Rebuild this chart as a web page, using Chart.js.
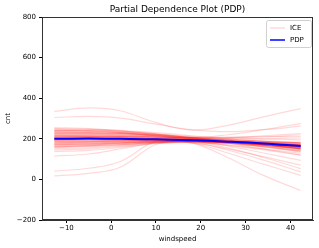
<!DOCTYPE html>
<html>
<head>
<meta charset="utf-8">
<script src="https://cdn.jsdelivr.net/npm/chart.js@4"></script>
<style>
  html, body { margin: 0; padding: 0; background: #fff; }
  #wrap { width: 319px; height: 248px; }
</style>
</head>
<body>
<div id="wrap"><canvas id="chart" width="319" height="248"></canvas></div>
<script>
// ---- Data ----
const windspeedGrid = [-12.7, -5, 2, 10, 18, 26, 34, 42.3];
const pdpValues = [200, 201, 200, 198, 193, 186, 177, 164];

// one row per ICE curve, values at windspeedGrid
const iceCurves = [
  [335, 352, 338, 280, 243, 266, 308, 349],
  [305, 310, 302, 272, 245, 235, 245, 262],
  [41, 55, 88, 190, 205, 205, 210, 220],
  [17, 30, 60, 172, 195, 200, 200, 205],
  [115, 125, 150, 180, 190, 185, 175, 160],
  [205, 206, 205, 200, 180, 108, 20, -55],
  [180, 185, 190, 192, 180, 130, 75, 20],
  [195, 198, 200, 198, 185, 145, 95, 37],
  [210, 212, 212, 208, 192, 155, 108, 53],
  [170, 175, 180, 185, 180, 150, 112, 70],
  [225, 225, 222, 215, 195, 165, 130, 94],
  [240, 238, 230, 215, 205, 220, 245, 275],
  [160, 168, 178, 188, 195, 205, 215, 226],
  [255, 250, 240, 222, 205, 195, 188, 180],
  [248, 245, 238, 225, 212, 205, 200, 195],
  [240, 242, 238, 225, 205, 185, 165, 145],
  [235, 232, 228, 218, 205, 190, 175, 160],
  [230, 228, 225, 215, 200, 182, 160, 135],
  [226, 226, 224, 218, 208, 198, 190, 182],
  [222, 222, 220, 212, 200, 186, 170, 150],
  [218, 218, 217, 212, 203, 195, 188, 180],
  [214, 214, 213, 210, 202, 190, 178, 165],
  [210, 211, 210, 206, 198, 185, 170, 152],
  [207, 208, 208, 205, 198, 190, 180, 170],
  [204, 205, 204, 200, 193, 182, 168, 150],
  [201, 202, 202, 200, 195, 188, 180, 172],
  [198, 199, 199, 197, 190, 178, 162, 142],
  [195, 196, 197, 196, 192, 186, 178, 168],
  [192, 193, 194, 194, 190, 182, 170, 155],
  [189, 190, 192, 193, 190, 184, 176, 165],
  [186, 188, 190, 192, 191, 186, 180, 172],
  [183, 185, 188, 190, 188, 180, 168, 152],
  [180, 182, 186, 190, 190, 188, 185, 180],
  [176, 178, 182, 187, 188, 182, 170, 155],
  [172, 175, 180, 186, 188, 186, 182, 176],
  [168, 170, 176, 184, 186, 180, 168, 150],
  [163, 166, 172, 182, 186, 182, 172, 158],
  [158, 162, 170, 182, 188, 186, 180, 170],
  [152, 156, 166, 180, 185, 178, 162, 140],
  [145, 150, 162, 178, 184, 176, 160, 138],
  [138, 143, 158, 176, 184, 180, 170, 155],
  [250, 248, 242, 230, 215, 200, 186, 170],
  [244, 240, 232, 218, 200, 178, 150, 120],
  [236, 236, 232, 222, 208, 192, 175, 158],
  [215, 212, 208, 200, 188, 170, 150, 128],
  [200, 200, 198, 194, 185, 168, 145, 120],
  [215, 215, 212, 208, 205, 208, 210, 212],
  [228, 230, 228, 220, 206, 192, 176, 160],
  [220, 219, 216, 210, 200, 190, 180, 168],
  [212, 212, 211, 207, 199, 186, 170, 150],
  [206, 206, 205, 202, 196, 186, 174, 160],
  [199, 200, 200, 198, 193, 184, 172, 158],
  [193, 194, 195, 195, 192, 188, 184, 180],
  [187, 188, 190, 191, 189, 182, 172, 160],
  [178, 180, 184, 188, 189, 185, 178, 170],
  [170, 173, 178, 185, 188, 184, 176, 165],
  [160, 164, 171, 182, 187, 183, 174, 162],
  [242, 240, 234, 222, 206, 190, 172, 152],
  [232, 230, 226, 216, 204, 194, 185, 176],
];

const xTicks = [-10, 0, 10, 20, 30, 40];
const yTicks = [-200, 0, 200, 400, 600, 800];

const ICE_COLOR = "rgba(255,0,0,0.15)";
const PDP_COLOR = "#0000ff";
const FONT = "'DejaVu Sans', sans-serif";
const TITLE = "Partial Dependence Plot (PDP)";

const minus = v => String(v).replace("-", "\u2212");

// ---- Plugins: title over plot area, full box frame, matplotlib-like legend ----
const framePlugin = {
  id: "frame",
  afterDatasetsDraw(chart) {
    const { ctx, chartArea: a } = chart;
    ctx.save();
    ctx.strokeStyle = "#333";
    ctx.lineWidth = 1;
    ctx.strokeRect(a.left + 0.5, a.top + 0.5, a.right - a.left - 1, a.bottom - a.top - 1);
    // title centred on the axes, like matplotlib
    ctx.font = `9px ${FONT}`;
    ctx.fillStyle = "#000";
    ctx.textAlign = "center";
    ctx.textBaseline = "middle";
    ctx.fillText(TITLE, (a.left + a.right) / 2, 10);
    ctx.restore();
  },
};

const legendPlugin = {
  id: "mplLegend",
  afterDraw(chart) {
    const { ctx, chartArea: a } = chart;
    const x0 = a.right - 47, y0 = a.top + 3, w = 45, h = 27;
    ctx.save();
    ctx.fillStyle = "rgba(255,255,255,0.8)";
    ctx.strokeStyle = "#d0d0d0";
    ctx.lineWidth = 1;
    ctx.beginPath();
    ctx.roundRect(x0 + 0.5, y0 + 0.5, w, h, 2);
    ctx.fill();
    ctx.stroke();
    const items = [
      { label: "ICE", color: "rgba(255,0,0,0.15)", width: 1.5 },
      { label: "PDP", color: PDP_COLOR, width: 1.5 },
    ];
    ctx.font = `7px ${FONT}`;
    ctx.textBaseline = "middle";
    items.forEach((it, i) => {
      const y = y0 + 8 + i * 12;
      ctx.strokeStyle = it.color;
      ctx.lineWidth = it.width;
      ctx.beginPath();
      ctx.moveTo(x0 + 4, y);
      ctx.lineTo(x0 + 19, y);
      ctx.stroke();
      ctx.fillStyle = "#000";
      ctx.fillText(it.label, x0 + 24, y);
    });
    ctx.restore();
  },
};

// ---- Chart ----
const datasets = [
  {
    label: "PDP",
    data: windspeedGrid.map((x, i) => ({ x, y: pdpValues[i] })),
    borderColor: PDP_COLOR,
    borderWidth: 2,
    pointRadius: 0,
    tension: 0.4,
    order: 0,
  },
  ...iceCurves.map(row => ({
    label: "ICE",
    data: windspeedGrid.map((x, i) => ({ x, y: row[i] })),
    borderColor: ICE_COLOR,
    borderWidth: 1.2,
    pointRadius: 0,
    tension: 0.4,
    order: 1,
  })),
];

new Chart(document.getElementById("chart"), {
  type: "line",
  data: { datasets },
  plugins: [framePlugin, legendPlugin],
  options: {
    responsive: false,
    animation: false,
    layout: { padding: { left: 0, right: 6, top: 17, bottom: 0 } },
    plugins: {
      legend: { display: false },
      tooltip: { enabled: false },
      title: { display: false },
    },
    scales: {
      x: {
        type: "linear",
        min: -15.45,
        max: 45.05,
        afterFit: s => { s.height = 28; },
        afterBuildTicks: s => { s.ticks = xTicks.map(v => ({ value: v })); },
        grid: { display: true, drawOnChartArea: false, drawTicks: true, tickLength: 3, color: "#000" },
        border: { display: true, color: "#333" },
        ticks: {
          color: "#000",
          padding: 1,
          font: { family: FONT, size: 7 },
          callback: v => minus(v),
        },
        title: {
          display: true,
          text: "windspeed",
          color: "#000",
          font: { family: FONT, size: 7 },
          padding: { top: 0, bottom: 5 },
        },
      },
      y: {
        min: -200,
        max: 800,
        afterFit: s => { s.width = 42; },
        afterBuildTicks: s => { s.ticks = yTicks.map(v => ({ value: v })); },
        grid: { display: true, drawOnChartArea: false, drawTicks: true, tickLength: 3, color: "#000" },
        border: { display: true, color: "#333" },
        ticks: {
          color: "#000",
          padding: 3,
          font: { family: FONT, size: 7 },
          callback: v => minus(v),
        },
        title: {
          display: true,
          text: "cnt",
          color: "#000",
          font: { family: FONT, size: 7 },
          padding: { top: 4, bottom: 0 },
        },
      },
    },
  },
});
</script>
</body>
</html>
